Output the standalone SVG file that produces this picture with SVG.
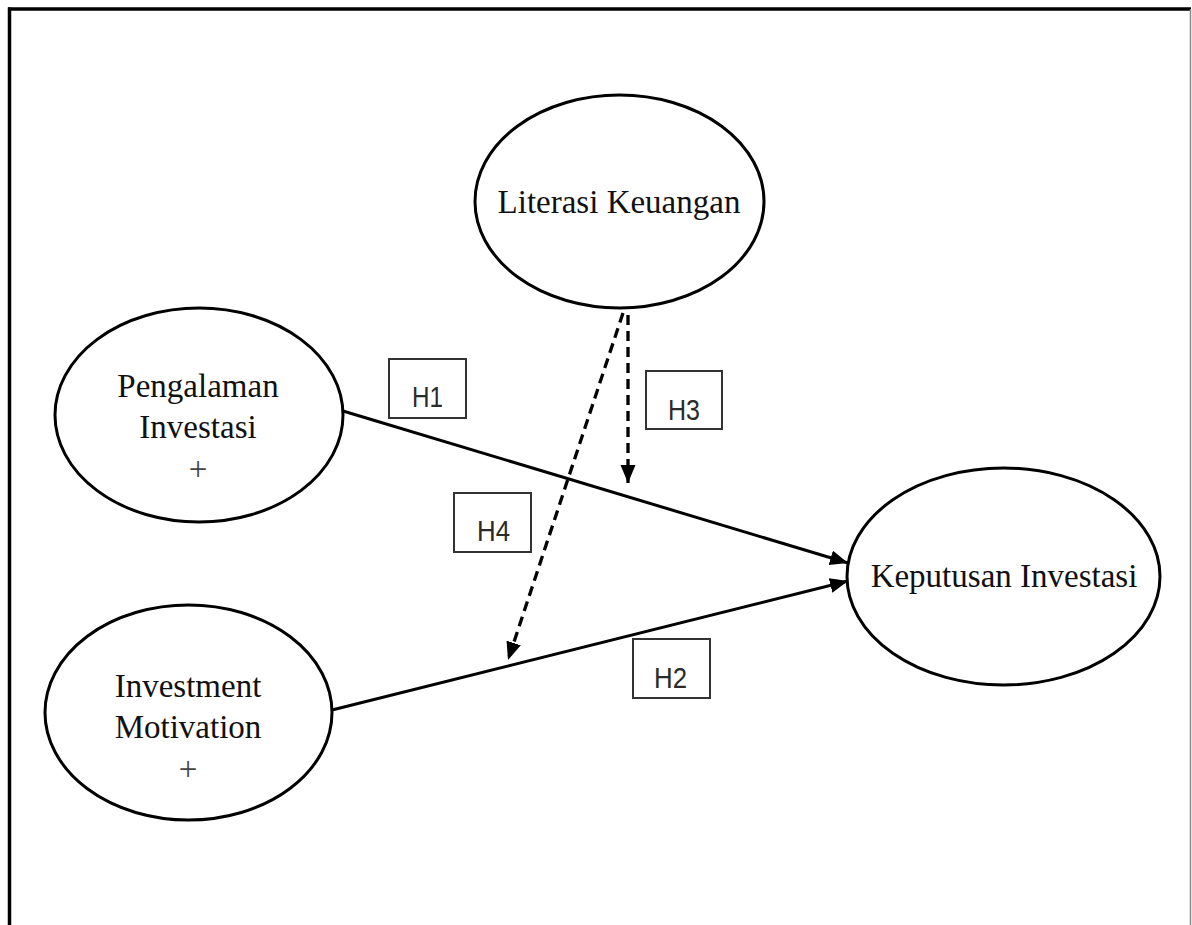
<svg xmlns="http://www.w3.org/2000/svg" width="1192" height="925" viewBox="0 0 1192 925">
  <defs>
    <marker id="arrow" markerUnits="userSpaceOnUse" markerWidth="20" markerHeight="16" refX="18" refY="7.5" orient="auto">
      <path d="M0,0 L18,7.5 L0,15 z" fill="#000"/>
    </marker>
    <style>
      .node { fill: #fff; stroke: #000; stroke-width: 3; }
      .lbl { font-family: "Liberation Serif", "Times New Roman", serif; font-size: 33px; fill: #111; text-anchor: middle; }
      .plus { font-family: "Liberation Serif", "Times New Roman", serif; font-size: 33px; fill: #444; text-anchor: middle; }
      .hbox { fill: #fff; stroke: #333; stroke-width: 2; }
      .htxt { font-family: "Liberation Sans", Arial, sans-serif; font-size: 30px; fill: #2a2a2a; }
      .solid { stroke: #000; stroke-width: 3; fill: none; }
      .dash { stroke: #000; stroke-width: 3.3; fill: none; stroke-dasharray: 10 6; }
    </style>
  </defs>
  <rect x="0" y="0" width="1192" height="925" fill="#fff"/>
  <g id="frame" fill="none">
    <line x1="9.5" y1="7.5" x2="9.5" y2="925" stroke="#000" stroke-width="3.5"/>
    <line x1="8" y1="9" x2="1191" y2="9" stroke="#000" stroke-width="3.5"/>
    <line x1="1190.5" y1="9" x2="1190.5" y2="925" stroke="#888" stroke-width="1.5"/>
  </g>
  <g id="connectors">
    <line class="solid" x1="343" y1="411" x2="848" y2="563" marker-end="url(#arrow)"/>
    <line class="solid" x1="332" y1="710" x2="848" y2="581" marker-end="url(#arrow)"/>
    <line class="dash" x1="628" y1="315" x2="628" y2="483" marker-end="url(#arrow)"/>
    <line class="dash" x1="623" y1="313" x2="508" y2="660" marker-end="url(#arrow)"/>
  </g>
  <g id="literasi">
    <ellipse class="node" cx="619.5" cy="201.5" rx="144.5" ry="106.5"/>
    <text class="lbl" x="619" y="213">Literasi Keuangan</text>
  </g>
  <g id="pengalaman">
    <ellipse class="node" cx="199" cy="415" rx="144" ry="107"/>
    <text class="lbl" x="198" y="397">Pengalaman</text>
    <text class="lbl" x="198" y="438">Investasi</text>
    <text class="plus" x="198" y="480">+</text>
  </g>
  <g id="motivation">
    <ellipse class="node" cx="188.5" cy="712.5" rx="143.5" ry="107.5"/>
    <text class="lbl" x="188" y="697">Investment</text>
    <text class="lbl" x="188" y="738">Motivation</text>
    <text class="plus" x="188" y="780">+</text>
  </g>
  <g id="keputusan">
    <ellipse class="node" cx="1003.5" cy="576.5" rx="156.5" ry="108.5"/>
    <text class="lbl" x="1004" y="587">Keputusan Investasi</text>
  </g>
  <g id="h1">
    <rect class="hbox" x="389" y="359" width="77" height="59"/>
    <text class="htxt" x="412" y="407" textLength="31" lengthAdjust="spacingAndGlyphs">H1</text>
  </g>
  <g id="h2">
    <rect class="hbox" x="633" y="639" width="77" height="59"/>
    <text class="htxt" x="654" y="688" textLength="33" lengthAdjust="spacingAndGlyphs">H2</text>
  </g>
  <g id="h3">
    <rect class="hbox" x="646" y="371" width="76" height="58"/>
    <text class="htxt" x="668" y="420" textLength="32" lengthAdjust="spacingAndGlyphs">H3</text>
  </g>
  <g id="h4">
    <rect class="hbox" x="454" y="493" width="77" height="59"/>
    <text class="htxt" x="477" y="541" textLength="33" lengthAdjust="spacingAndGlyphs">H4</text>
  </g>
</svg>
